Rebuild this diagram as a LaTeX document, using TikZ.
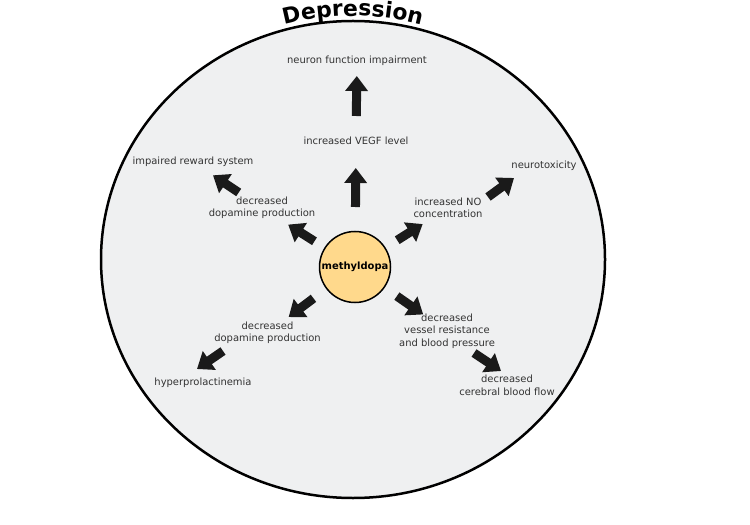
\documentclass[tikz,border=0pt]{standalone}
\usepackage{fontspec}
\setmainfont{DejaVu Sans}
\usetikzlibrary{arrows.meta,decorations.text}
\definecolor{bggray}{HTML}{EFF0F1}
\definecolor{methfill}{HTML}{FFD98C}
\definecolor{txtgray}{HTML}{333333}
\definecolor{arrblack}{HTML}{1A1A1A}
\tikzset{
  lbl/.style={text=txtgray, align=center, inner sep=0pt, font=\fontsize{10}{12.5}\selectfont},
  bigarrow/.style={arrblack, line width=9bp, -{Triangle[length=15bp, width=22bp]}}
}
\begin{document}
\begin{tikzpicture}[x=1bp, y=-1bp]
\useasboundingbox (0,0) rectangle (750,525);
% outer field
\draw[line width=2.5bp, fill=bggray] (353,259.5) ellipse [x radius=252, y radius=238.5];
\path[decorate, decoration={text along path, text align=center,
    text={|\fontsize{22}{22}\selectfont\bfseries|Depression}}]
  (353,259.5) ++(240:257 and 243.5) arc[start angle=240, end angle=300, x radius=257, y radius=243.5];
% drug
\node[circle, draw, line width=1.5bp, fill=methfill, minimum size=71bp, inner sep=0pt,
  font=\fontsize{10}{12}\selectfont\bfseries] (meth) at (355,267) {methyldopa};
% labels
\node[lbl] (neuron) at (357,61) {neuron function impairment};
\node[lbl] (vegf) at (356,141) {increased VEGF level};
\node[lbl] (reward) at (193,162) {impaired reward system};
\node[lbl] (dopup) at (262,208) {decreased\\dopamine production};
\node[lbl] (no) at (448,208) {increased NO\\concentration};
\node[lbl] (neuro) at (544,166) {neurotoxicity};
\node[lbl] (dopdown) at (267.5,333) {decreased\\dopamine production};
\node[lbl] (vessel) at (447,331) {decreased\\vessel resistance\\and blood pressure};
\node[lbl] (hyper) at (203,383) {hyperprolactinemia};
\node[lbl] (cerebral) at (507,385.5) {decreased\\cerebral blood flow};
% arrows
\draw[bigarrow, shorten <=60bp, shorten >=27bp] (meth.center) -- (vegf.center);
\draw[bigarrow, shorten <=25bp, shorten >=15bp] (vegf.center) -- (neuron.center);
\draw[bigarrow, shorten <=48bp, shorten >=31bp] (meth.center) -- (dopup.center);
\draw[bigarrow, shorten <=28bp, shorten >=24bp] (dopup.center) -- (reward.center);
\draw[bigarrow, shorten <=50bp, shorten >=30bp] (meth.center) -- (no.center);
\draw[bigarrow] ([shift={(40,-11)}]no.center) -- ([shift={(-30,12)}]neuro.center);
\draw[bigarrow, shorten <=52bp, shorten >=26.5bp] (meth.center) -- (dopdown.center);
\draw[bigarrow] ([shift={(-44.5,18)}]dopdown.center) -- ([shift={(-6,-14)}]hyper.center);
\draw[bigarrow, shorten <=51bp, shorten >=29bp] (meth.center) -- (vessel.center);
\draw[bigarrow] ([shift={(27,22)}]vessel.center) -- ([shift={(-6,-14.5)}]cerebral.center);
\end{tikzpicture}
\end{document}
